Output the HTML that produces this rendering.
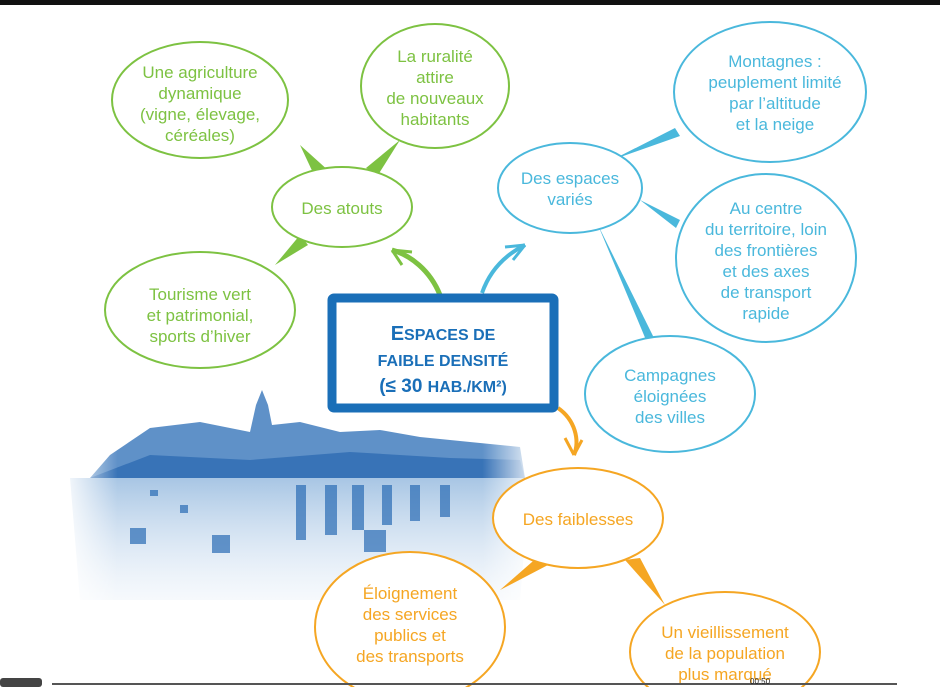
<!DOCTYPE html>
<html><head><meta charset="utf-8"><style>
html,body{margin:0;padding:0;background:#fff;}
svg{display:block}
text{font-family:"Liberation Sans",sans-serif;}
</style></head><body>
<svg width="940" height="687" viewBox="0 0 940 687" xmlns="http://www.w3.org/2000/svg">
<defs>
<linearGradient id="fld" x1="0" y1="0" x2="0" y2="1">
<stop offset="0" stop-color="#6d9fd2" stop-opacity="0.6"/>
<stop offset="1" stop-color="#c4d8ee" stop-opacity="0.15"/>
</linearGradient>
<linearGradient id="fx" x1="0" y1="0" x2="1" y2="0">
<stop offset="0" stop-color="#fff" stop-opacity="1"/>
<stop offset="0.12" stop-color="#fff" stop-opacity="0"/>
<stop offset="0.88" stop-color="#fff" stop-opacity="0"/>
<stop offset="1" stop-color="#fff" stop-opacity="1"/>
</linearGradient>
</defs>
<rect x="0" y="0" width="940" height="5" fill="#111"/>
<!-- landscape -->
<path d="M90 478 L110 455 L150 428 L200 422 L250 432 L256 405 L262 390 L268 405 L272 425 L300 422 L340 432 L380 430 L420 437 L470 442 L520 447 L525 478 Z" fill="#2a6cb5" opacity="0.75"/>
<path d="M90 478 L150 455 L250 460 L350 452 L450 458 L520 460 L525 478 Z" fill="#1e5fab" opacity="0.6"/>
<path d="M70 478 L530 478 L520 600 L80 600 Z" fill="url(#fld)"/>
<g fill="#2a6cb5" opacity="0.7">
<rect x="296" y="485" width="10" height="55"/><rect x="325" y="485" width="12" height="50"/><rect x="352" y="485" width="12" height="45"/><rect x="382" y="485" width="10" height="40"/><rect x="410" y="485" width="10" height="36"/><rect x="440" y="485" width="10" height="32"/>
<rect x="130" y="528" width="16" height="16"/><rect x="212" y="535" width="18" height="18"/><rect x="364" y="530" width="22" height="22"/><rect x="180" y="505" width="8" height="8"/><rect x="150" y="490" width="8" height="6"/>
</g>
<rect x="60" y="380" width="480" height="240" fill="url(#fx)"/>
<!-- green connectors -->
<g fill="#7dc242">
<path d="M300 145 L330 172 L315 177 Z"/>
<path d="M400 140 L378 175 L366 168 Z"/>
<path d="M275 265 L300 235 L308 245 Z"/>
</g>
<g fill="#fff" stroke="#7dc242" stroke-width="2">
<ellipse cx="200" cy="100" rx="88" ry="58"/>
<ellipse cx="435" cy="86" rx="74" ry="62"/>
<ellipse cx="342" cy="207" rx="70" ry="40"/>
<ellipse cx="200" cy="310" rx="95" ry="58"/>
</g>
<path d="M440 295 C430 270 410 255 392 250" fill="none" stroke="#7dc242" stroke-width="5"/>
<path d="M392 250 L412 252 M392 250 L402 265" stroke="#7dc242" stroke-width="3" fill="none"/>
<g fill="#4ab8dc">
<path d="M612 160 L675 128 L680 136 Z"/>
<path d="M640 200 L680 220 L676 228 Z"/>
<path d="M598 225 L654 338 L646 340 Z"/>
</g>
<g fill="#fff" stroke="#4ab8dc" stroke-width="2">
<ellipse cx="570" cy="188" rx="72" ry="45"/>
<ellipse cx="770" cy="92" rx="96" ry="70"/>
<ellipse cx="766" cy="258" rx="90" ry="84"/>
<ellipse cx="670" cy="394" rx="85" ry="58"/>
</g>
<path d="M482 293 C490 270 505 255 525 245" fill="none" stroke="#4ab8dc" stroke-width="4"/>
<path d="M525 245 L505 247 M525 245 L513 260" stroke="#4ab8dc" stroke-width="3" fill="none"/>
<!-- orange -->
<g fill="#f5a623">
<path d="M540 555 L500 590 L548 565 Z"/>
<path d="M625 560 L665 605 L640 558 Z"/>
</g>
<path d="M558 408 C575 420 580 440 574 455" fill="none" stroke="#f5a623" stroke-width="4"/>
<path d="M574 455 L565 438 M574 455 L582 440" stroke="#f5a623" stroke-width="3" fill="none"/>
<g fill="#fff" stroke="#f5a623" stroke-width="2">
<ellipse cx="578" cy="518" rx="85" ry="50"/>
<ellipse cx="410" cy="627" rx="95" ry="75"/>
<ellipse cx="725" cy="652" rx="95" ry="60"/>
</g>
<!-- central box -->
<rect x="332" y="298" width="222" height="110" fill="#fff" stroke="#1a6fb8" stroke-width="9" rx="2"/>
<g fill="#1a6fb8" font-weight="bold" text-anchor="middle">
<text x="443" y="340" font-size="20">E<tspan font-size="16">SPACES DE</tspan></text>
<text x="443" y="366" font-size="16">FAIBLE DENSITÉ</text>
<text x="443" y="392" font-size="19">(≤ 30 <tspan font-size="16">HAB./KM²)</tspan></text>
</g>
<g fill="#7dc242" font-size="17" text-anchor="middle">
<text x="200" y="78">Une agriculture</text><text x="200" y="99">dynamique</text><text x="200" y="120">(vigne, élevage,</text><text x="200" y="141">céréales)</text>
<text x="435" y="62">La ruralité</text><text x="435" y="83">attire</text><text x="435" y="104">de nouveaux</text><text x="435" y="125">habitants</text>
<text x="342" y="214">Des atouts</text>
<text x="200" y="300">Tourisme vert</text><text x="200" y="321">et patrimonial,</text><text x="200" y="342">sports d’hiver</text>
</g>
<g fill="#4ab8dc" font-size="17" text-anchor="middle">
<text x="570" y="184">Des espaces</text><text x="570" y="205">variés</text>
<text x="775" y="67">Montagnes :</text><text x="775" y="88">peuplement limité</text><text x="775" y="109">par l’altitude</text><text x="775" y="130">et la neige</text>
<text x="766" y="214">Au centre</text><text x="766" y="235">du territoire, loin</text><text x="766" y="256">des frontières</text><text x="766" y="277">et des axes</text><text x="766" y="298">de transport</text><text x="766" y="319">rapide</text>
<text x="670" y="381">Campagnes</text><text x="670" y="402">éloignées</text><text x="670" y="423">des villes</text>
</g>
<g fill="#f5a623" font-size="17" text-anchor="middle">
<text x="578" y="525">Des faiblesses</text>
<text x="410" y="599">Éloignement</text><text x="410" y="620">des services</text><text x="410" y="641">publics et</text><text x="410" y="662">des transports</text>
<text x="725" y="638">Un vieillissement</text><text x="725" y="659">de la population</text><text x="725" y="680">plus marqué</text>
</g>
<rect x="0" y="678" width="42" height="9" rx="3" fill="#444"/>
<rect x="52" y="683" width="845" height="2" fill="#555"/>
<text x="750" y="684" font-size="8" fill="#222">00:50</text>
</svg>
</body></html>
